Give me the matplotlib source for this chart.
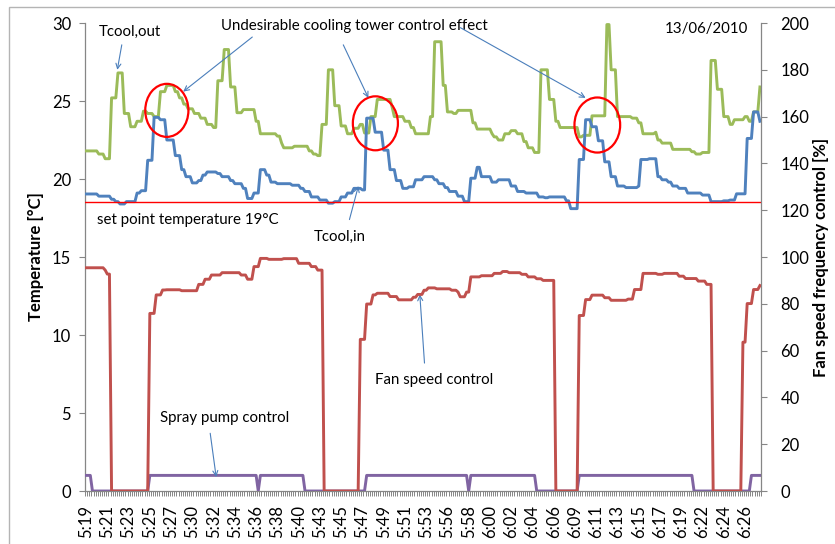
import numpy as np
import matplotlib
matplotlib.use('Agg')
import matplotlib.pyplot as plt
from matplotlib.patches import Ellipse, Rectangle

plt.rcParams['font.family'] = ['Lato', 'DejaVu Sans']

# ---------------- data ----------------
N_SAMPLES = 318
label_step = 10
time_labels = ['5:19', '5:21', '5:23', '5:25', '5:27', '5:30', '5:32', '5:34', '5:36', '5:38',
               '5:40', '5:43', '5:45', '5:47', '5:49', '5:51', '5:53', '5:56', '5:58', '6:00',
               '6:02', '6:04', '6:06', '6:09', '6:11', '6:13', '6:15', '6:17', '6:19', '6:22',
               '6:24', '6:26']

# Tcool,out  (step series: sample index where each level starts, level in °C)
tout_starts = [0, 6, 9, 12, 15, 18, 21, 24, 27, 29, 32, 35, 38, 42, 44, 46, 48, 51, 54, 57,
               60, 62, 65, 68, 71, 74, 80, 82, 90, 92, 93, 98, 105, 107, 109, 111, 114, 117, 120, 123,
               126, 129, 131, 134, 137, 144, 145, 150, 153, 155, 162, 164, 168, 170, 173, 175, 182, 184, 191, 192,
               194, 197, 200, 203, 206, 208, 211, 214, 218, 221, 223, 232, 234, 238, 245, 247, 250, 257, 260, 262,
               268, 269, 271, 276, 285, 287, 290, 294, 297, 300, 303, 305, 310, 312, 314, 317]
tout_levels = [21.8, 21.6, 21.3, 25.2, 26.8, 24.2, 23.35, 23.7, 24.35, 24.2, 24.0, 25.6, 26.0, 25.6, 25.2, 24.8, 24.5, 24.2, 23.9, 23.5,
               23.3, 26.3, 28.3, 25.9, 24.25, 24.45, 23.7, 22.9, 22.75, 22.3, 22.0, 22.1, 21.8, 21.6, 21.5, 23.5, 27.0, 24.7, 23.4, 22.9,
               23.25, 23.5, 22.95, 24.0, 25.1, 24.6, 24.0, 23.7, 23.3, 22.9, 24.0, 28.8, 26.0, 24.3, 24.2, 24.4, 23.6, 23.2, 22.9, 22.7,
               22.5, 22.9, 23.1, 22.9, 22.4, 22.0, 21.7, 27.0, 25.1, 23.7, 23.3, 22.7, 22.8, 24.05, 29.9, 27.0, 24.0, 23.9, 23.6, 22.9,
               23.0, 22.5, 22.3, 21.9, 21.75, 21.6, 21.7, 27.6, 25.75, 24.0, 23.5, 23.8, 24.0, 23.7, 24.3, 25.9]

# Tcool,in
tin_starts = [0, 6, 12, 14, 16, 19, 24, 26, 29, 32, 35, 38, 42, 45, 47, 50, 53, 55, 57, 62,
              64, 68, 70, 74, 76, 79, 82, 85, 87, 90, 97, 101, 103, 106, 110, 114, 117, 120, 123, 126,
              130, 132, 136, 140, 143, 146, 149, 152, 155, 159, 164, 166, 169, 171, 175, 178, 181, 184, 186, 191,
              194, 200, 203, 207, 213, 216, 218, 226, 228, 232, 235, 238, 241, 244, 247, 250, 254, 260, 261, 265,
              269, 271, 274, 276, 279, 283, 290, 294, 300, 303, 306, 311, 314, 317]
tin_levels = [19.04, 18.9, 18.7, 18.55, 18.4, 18.55, 19.1, 19.25, 21.2, 23.95, 23.8, 22.5, 21.5, 20.6, 20.15, 19.75, 19.9, 20.25, 20.45, 20.35,
              20.15, 19.9, 19.7, 19.4, 18.75, 19.1, 20.6, 20.25, 19.8, 19.7, 19.6, 19.4, 19.2, 18.85, 18.65, 18.45, 18.55, 18.85, 19.1, 19.4,
              19.3, 23.9, 23.0, 21.85, 20.6, 19.9, 19.4, 19.5, 19.95, 20.15, 19.95, 19.7, 19.45, 19.2, 18.9, 18.55, 20.05, 20.75, 20.15, 19.8,
              19.95, 19.55, 19.2, 19.1, 18.85, 18.8, 18.85, 18.6, 18.1, 21.25, 23.8, 23.35, 22.45, 21.1, 20.15, 19.55, 19.45, 19.55, 21.25, 21.3,
              20.15, 19.95, 19.8, 19.55, 19.4, 19.1, 18.97, 18.55, 18.6, 18.65, 19.05, 22.6, 24.3, 23.7]

# Fan speed frequency control [%]
fan_starts = [0, 9, 10, 12, 30, 33, 36, 38, 45, 53, 56, 59, 64, 73, 76, 79, 82, 86, 93, 100,
              106, 109, 112, 129, 132, 135, 137, 143, 147, 154, 156, 159, 161, 165, 172, 175, 176, 179, 181, 186,
              192, 196, 199, 205, 208, 212, 215, 221, 232, 235, 238, 244, 247, 255, 258, 262, 269, 272, 279, 282,
              288, 292, 295, 309, 311, 314, 317]
fan_levels = [95.4, 94.4, 92.7, 0, 75.9, 83.8, 85.9, 86.0, 85.6, 88.3, 90.5, 92.3, 93.3, 92.3, 90.5, 95.9, 99.4, 99.0, 99.3, 97.3,
              95.9, 94.4, 0, 64.8, 79.9, 83.8, 84.5, 83.1, 81.7, 82.8, 84.0, 85.8, 86.8, 86.4, 85.8, 85.0, 83.0, 85.0, 91.5, 92.0,
              93.0, 93.8, 93.3, 92.6, 91.5, 90.7, 90.0, 0, 75.0, 81.8, 83.7, 82.6, 81.5, 82.0, 86.1, 93.0, 92.6, 93.0, 91.8, 90.8,
              89.7, 88.3, 0, 63.6, 80.1, 86.1, 87.8]

# Spray pump control (on/off)
spray_starts = [0, 3, 30, 81, 82, 103, 132, 180, 181, 212, 232, 286, 313]
spray_levels = [1, 0, 1, 0, 1, 0, 1, 0, 1, 0, 1, 0, 1]

set_point = 18.5


def expand(starts, levels, n):
    counts = np.diff(list(starts) + [n])
    return np.repeat(np.asarray(levels, dtype=float), counts)


x = np.arange(N_SAMPLES)
tout = expand(tout_starts, tout_levels, N_SAMPLES)
tin = expand(tin_starts, tin_levels, N_SAMPLES)
fan = expand(fan_starts, fan_levels, N_SAMPLES)
spray = expand(spray_starts, spray_levels, N_SAMPLES)

# ---------------- figure ----------------
W, H = 835, 544
fig = plt.figure(figsize=(W / 100, H / 100), dpi=100)
ax = fig.add_axes([85 / W, 1 - 491 / H, (761 - 85) / W, (491 - 23) / H])
ax2 = ax.twinx()

GRAY = '#868686'
ARROW = '#4A7EBB'

ax.plot(x, tout, color='#9BBB59', lw=2.1, solid_joinstyle='round', zorder=3)
ax.plot(x, tin, color='#4F81BD', lw=2.1, solid_joinstyle='round', zorder=4)
ax.plot(x, spray, color='#8064A2', lw=2.1, solid_joinstyle='round', zorder=3)
ax.axhline(set_point, color='#FF0000', lw=1.0, zorder=5)
ax2.plot(x, fan, color='#C0504D', lw=2.1, solid_joinstyle='round', zorder=3)

ax.set_xlim(-0.5, N_SAMPLES - 0.5)
ax.set_ylim(0, 30)
ax2.set_ylim(0, 200)
ax.set_yticks(np.arange(0, 31, 5))
ax2.set_yticks(np.arange(0, 201, 20))

label_pos = np.arange(len(time_labels)) * label_step
ax.set_xticks(label_pos)
ax.set_xticklabels(time_labels, rotation=90, fontsize=12)
ax.set_xticks(np.arange(-0.5, N_SAMPLES, 1), minor=True)
ax.tick_params(axis='x', which='major', length=0, pad=10)
ax.tick_params(axis='x', which='minor', length=3.5, width=0.7, color=GRAY, direction='out')
ax.tick_params(axis='y', which='major', length=4, width=0.8, color=GRAY, labelsize=12, pad=6)
ax2.tick_params(axis='y', which='major', length=4, width=0.8, color=GRAY, labelsize=12, pad=10)

for sp in ['top']:
    ax.spines[sp].set_visible(False)
    ax2.spines[sp].set_visible(False)
ax.spines['right'].set_visible(False)
ax2.spines['left'].set_visible(False)
ax2.spines['bottom'].set_visible(False)
for a, sp in [(ax, 'left'), (ax, 'bottom'), (ax2, 'right')]:
    a.spines[sp].set_color(GRAY)
    a.spines[sp].set_linewidth(0.9)

ax.set_ylabel('Temperature [°C]', fontsize=12, fontweight='bold', labelpad=6)
ax2.set_ylabel('Fan speed frequency control [%]', fontsize=12, fontweight='bold', labelpad=3)

# ---------------- annotations ----------------
txt = dict(fontsize=10.8, color='black', zorder=10)
ax.text(6.1, 29.4, 'Tcool,out', ha='left', va='center', **txt)
ax.text(63.6, 29.8, 'Undesirable cooling tower control effect', ha='left', va='center', **txt)
ax.text(311.3, 29.6, '13/06/2010', ha='right', va='center', **txt)
ax.text(5.2, 17.4, 'set point temperature 19°C', ha='left', va='center', **txt)
ax.text(106.9, 16.3, 'Tcool,in', ha='left', va='center', **txt)
ax.text(136.1, 7.1, 'Fan speed control', ha='left', va='center', **txt)
ax.text(34.8, 4.7, 'Spray pump control', ha='left', va='center', **txt)

arrows = [((16.8, 28.6), (14.7, 27.0)),
          ((78.2, 29.1), (45.7, 25.6)),
          ((121.0, 28.6), (132.8, 25.2)),
          ((176.1, 29.7), (235.0, 25.2)),
          ((123.9, 17.4), (128.1, 19.55)),
          ((159.2, 8.2), (157.0, 12.6)),
          ((58.4, 3.7), (61.2, 0.9))]
for start, end in arrows:
    ax.annotate('', xy=end, xytext=start,
                arrowprops=dict(arrowstyle='->', color=ARROW, lw=0.8,
                                shrinkA=0, shrinkB=0, mutation_scale=9),
                zorder=10)

circles = [(38.0, 24.4, 20.3, 3.4), (136.1, 23.57, 21.2, 3.46), (240.5, 23.46, 21.5, 3.53)]
for cx, cy, w, h in circles:
    ax.add_patch(Ellipse((cx, cy), w, h, fill=False, ec='#FF0000', lw=1.6, zorder=9))

# chart-area border
fig.add_artist(Rectangle((9 / W, -0.05), 1.2, 1 - 7 / H + 0.05, transform=fig.transFigure,
                         fill=False, ec='#B4B4B4', lw=1.0))

fig.savefig('out.png', dpi=100)
